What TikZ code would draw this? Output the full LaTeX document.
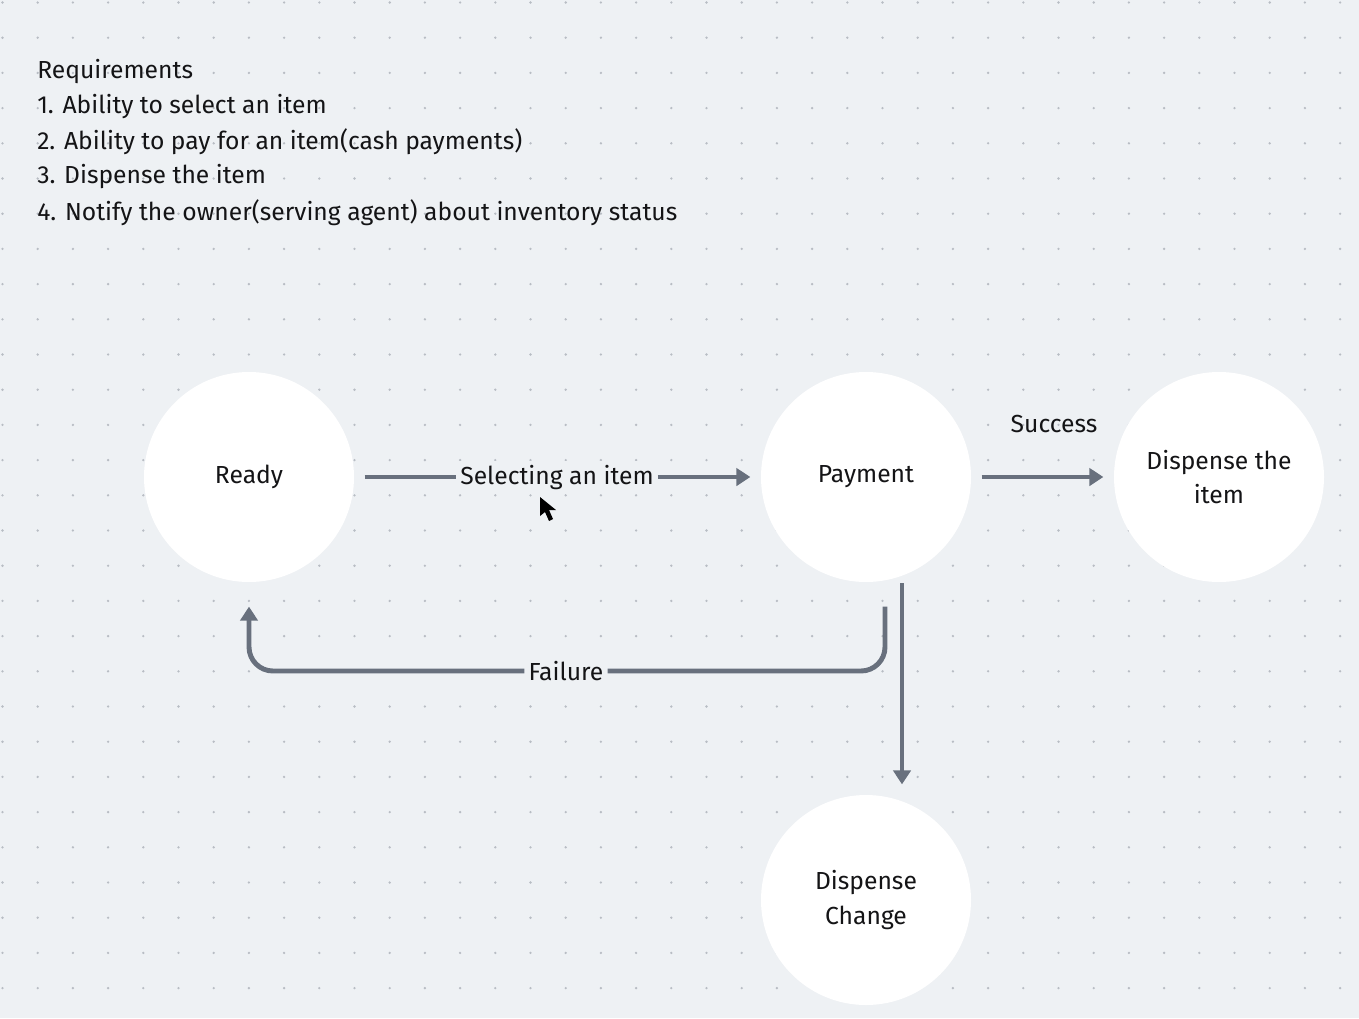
\documentclass[tikz,border=0pt]{standalone}
\usepackage{fontspec}
\setmainfont{Fira Sans}
\usetikzlibrary{arrows.meta,calc}
\definecolor{boardbg}{RGB}{238,241,244}
\definecolor{griddot}{RGB}{184,189,196}
\definecolor{flowgray}{RGB}{104,112,125}
\definecolor{inkblack}{RGB}{20,20,22}
\tikzset{
  state/.style={circle, fill=white, minimum size=157.5pt, inner sep=0pt, outer sep=8pt, text=inkblack, align=center, font=\fontsize{18.5}{26}\selectfont},
  flow/.style={draw=flowgray, line width=3.7pt, -{Triangle[length=10.5pt,width=13pt]}},
  flowline/.style={draw=flowgray, line width=3.7pt},
  edgelabel/.style={fill=boardbg, inner sep=3pt, text=inkblack, font=\fontsize{18.5}{22}\selectfont},
  reqline/.style={anchor=west, inner sep=0pt, text=inkblack, font=\fontsize{18.5}{22}\selectfont}
}
\begin{document}
\begin{tikzpicture}[x=0.75pt,y=0.75pt,yscale=-1,xscale=1]
	%background and dot grid
	\fill[boardbg] (0,0) rectangle (1359,1018);
	\useasboundingbox (0,0) rectangle (1359,1018);
	\foreach \i in {0,...,38}
		\foreach \j in {0,...,28}
			\fill[griddot] ({2.5+35.2*\i},{2.5+35.2*\j}) circle [radius=1.3];
	
	%requirements text
	\node[reqline] (req0) at (37,72) {Requirements};
	\node[reqline] (req1) at (37,107) {1. Ability to select an item};
	\node[reqline] (req2) at (37,142) {2. Ability to pay for an item(cash payments)};
	\node[reqline] (req3) at (37,177) {3. Dispense the item};
	\node[reqline] (req4) at (37,213) {4. Notify the owner(serving agent) about inventory status};
	
	%states
	\node[state] (ready) at (249,477) {Ready};
	\node[state] (payment) at (866,477) {Payment};
	\node[state] (dispense) at (1219,477) {Dispense the\\item};
	\node[state] (change) at (866,900) {Dispense\\Change};
	
	%selecting an item
	\node[edgelabel] (select) at (557,477) {Selecting an item};
	\draw[flowline] (ready) -- (select.west);
	\draw[flow] (select.east) -- (payment);
	
	%success
	\node[edgelabel, fill=none] (success) at (1054,424) {Success};
	\draw[flow] (payment) -- (dispense);
	
	%change
	\coordinate (cstart) at ($(payment.center)+(36,106)$);
	\draw[flow] (cstart) -- (cstart |- change.north);
	
	%failure
	\node[edgelabel] (failure) at (566,671) {Failure};
	\coordinate (fstart) at ($(payment.south)+(19,14)$);
	\draw[flowline, rounded corners=18] (fstart) |- (failure.east);
	\draw[flow, rounded corners=18] (failure.west) -| ($(ready.south)+(0,14)$);
	
	%mouse pointer
	\fill[black] (540,497) -- (540,516) -- (545,512) -- (549,521) -- (553,519) -- (549,510) -- (556,510) -- cycle;
\end{tikzpicture}
\end{document}
